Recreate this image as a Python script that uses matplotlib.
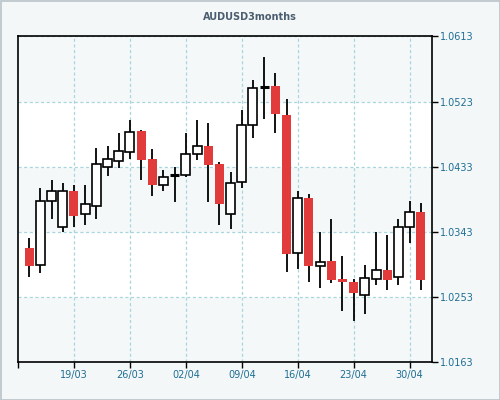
import matplotlib
matplotlib.use("Agg")
import matplotlib.pyplot as plt
from matplotlib.patches import Rectangle
import numpy as np

title = "AUDUSD3months"
dates = ["13/03","14/03","15/03","16/03",
         "19/03","20/03","21/03","22/03","23/03",
         "26/03","27/03","28/03","29/03","30/03",
         "02/04","03/04","04/04","05/04","06/04",
         "09/04","10/04","11/04","12/04","13/04",
         "16/04","17/04","18/04","19/04","20/04",
         "23/04","24/04","25/04","26/04","27/04",
         "30/04","01/05"]
opens  = [1.0321,1.0297,1.0385,1.0350,1.0400,1.0367,1.0379,1.0433,1.0441,
          1.0453,1.0482,1.0443,1.0408,1.0421,1.0421,1.0450,1.0461,1.0436,
          1.0367,1.0412,1.0490,1.0543,1.0544,1.0504,1.0313,1.0389,1.0296,
          1.0302,1.0278,1.0273,1.0256,1.0278,1.0290,1.0281,1.0350,1.0370]
highs  = [1.0335,1.0403,1.0415,1.0411,1.0408,1.0407,1.0459,1.0461,1.0480,
          1.0498,1.0483,1.0458,1.0429,1.0433,1.0480,1.0498,1.0494,1.0439,
          1.0425,1.0511,1.0553,1.0584,1.0562,1.0526,1.0399,1.0395,1.0342,
          1.0360,1.0309,1.0278,1.0297,1.0342,1.0338,1.0360,1.0386,1.0383]
lows   = [1.0280,1.0286,1.0360,1.0342,1.0349,1.0352,1.0360,1.0420,1.0431,
          1.0444,1.0414,1.0393,1.0400,1.0384,1.0418,1.0442,1.0384,1.0352,
          1.0347,1.0403,1.0473,1.0499,1.0479,1.0288,1.0291,1.0274,1.0265,
          1.0272,1.0234,1.0219,1.0229,1.0270,1.0263,1.0270,1.0327,1.0263]
closes = [1.0296,1.0386,1.0400,1.0400,1.0365,1.0382,1.0436,1.0444,1.0454,
          1.0481,1.0442,1.0408,1.0418,1.0421,1.0450,1.0461,1.0435,1.0381,
          1.0411,1.0490,1.0542,1.0543,1.0506,1.0312,1.0390,1.0295,1.0301,
          1.0276,1.0273,1.0258,1.0279,1.0290,1.0277,1.0349,1.0371,1.0277]
ytick_vals = [1.0163, 1.0253, 1.0343, 1.0433, 1.0523, 1.0613]
xtick_labels = ["19/03","26/03","02/04","09/04","16/04","23/04","30/04"]

fig = plt.figure(figsize=(5, 4), dpi=100)
fig.patch.set_facecolor("#f3f7f8")
fig.add_artist(Rectangle((0.001, 0.001), 0.998, 0.997, transform=fig.transFigure,
                         fill=False, edgecolor="#b9c3c7", lw=1.2))
ax = fig.add_axes([0.036, 0.095, 0.828, 0.814])
ax.set_facecolor("#f4f8f9")

ax.axhspan(ytick_vals[3], ytick_vals[4], color="white", zorder=0)
ax.axhspan(ytick_vals[1], ytick_vals[2], color="white", zorder=0)

xs = np.arange(len(dates))
tick_pos = [i for i, d in enumerate(dates) if d in xtick_labels]

w = 0.8
for x, o, h, l, c in zip(xs, opens, highs, lows, closes):
    ax.plot([x, x], [l, h], color="black", lw=1.3, zorder=2, solid_capstyle="butt")
    if abs(c - o) < 1e-5:
        ax.plot([x - w/2, x + w/2], [o, o], color="black", lw=2.2, zorder=3,
                solid_capstyle="butt")
    elif c > o:
        ax.add_patch(Rectangle((x - w/2, o), w, c - o, facecolor="white",
                               edgecolor="black", lw=1.2, zorder=3))
    else:
        ax.add_patch(Rectangle((x - w/2, c), w, o - c, facecolor="#e23b3b",
                               edgecolor="none", zorder=3))

ax.set_xlim(-1, 36)
ax.set_ylim(ytick_vals[0], ytick_vals[-1])
ax.set_xticks(tick_pos)
ax.set_xticklabels(xtick_labels)
ax.set_xticks([-1], minor=True)
ax.set_yticks(ytick_vals)
ax.set_yticklabels([f"{v:.4f}" for v in ytick_vals])
ax.yaxis.tick_right()
ax.tick_params(axis="both", which="both", direction="out", length=4, width=1,
               color="black", labelsize=7, labelcolor="#1f6e93", pad=2)
ax.grid(True, which="major", color="#a9d5dd", linestyle=(0, (2.5, 2)), lw=0.9, zorder=1)
ax.set_axisbelow(True)
for s in ax.spines.values():
    s.set_color("black")
    s.set_linewidth(1.2)

fig.text(0.5, 0.957, title, ha="center", va="center", fontsize=7,
         fontweight="bold", color="#4b5d6e")

fig.savefig("out.png", dpi=100, facecolor=fig.get_facecolor())
